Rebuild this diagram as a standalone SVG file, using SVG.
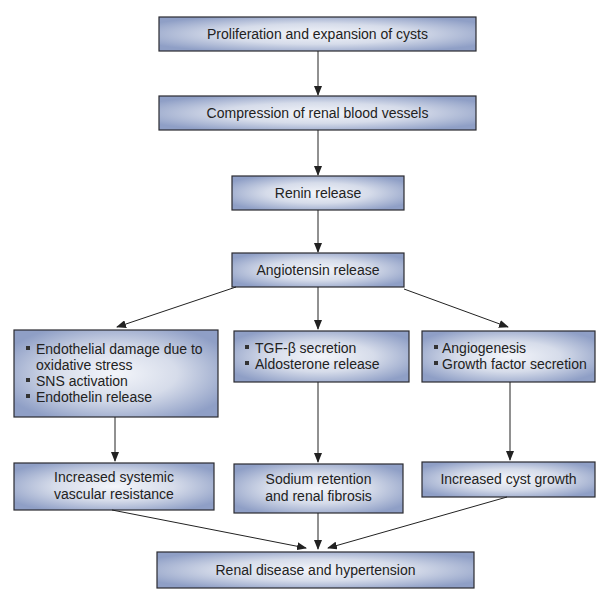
<svg xmlns="http://www.w3.org/2000/svg" width="612" height="595" viewBox="0 0 612 595">
<defs>
<radialGradient id="g" cx="0.5" cy="0.5" r="0.6">
<stop offset="0" stop-color="#f3f5fa"/>
<stop offset="0.5" stop-color="#d6dcea"/>
<stop offset="1" stop-color="#8f9fc6"/>
</radialGradient>
<marker id="ah" markerWidth="10" markerHeight="8" refX="9" refY="4" orient="auto" markerUnits="userSpaceOnUse">
<path d="M0,0 L10,4 L0,8 Z" fill="#222"/>
</marker>
</defs>
<style>
.box{fill:url(#g);stroke:#2a2a30;stroke-width:1.2}
text{font-family:"Liberation Sans",Arial,sans-serif;font-size:14px;fill:#222}
.c{text-anchor:middle}
.b{fill:#333}
.ln{stroke:#222;stroke-width:1;fill:none;marker-end:url(#ah)}
</style>
<rect width="612" height="595" fill="#fff"/>
<g id="n1"><rect class="box" x="159" y="17" width="317" height="34"/><text class="c" x="317.5" y="39">Proliferation and expansion of cysts</text></g>
<g id="n2"><rect class="box" x="159" y="96" width="317" height="34"/><text class="c" x="317.5" y="118">Compression of renal blood vessels</text></g>
<g id="n3"><rect class="box" x="232" y="176" width="172" height="34"/><text class="c" x="318" y="198">Renin release</text></g>
<g id="n4"><rect class="box" x="232" y="253" width="172" height="34"/><text class="c" x="318" y="275">Angiotensin release</text></g>
<g id="n5"><rect class="box" x="14" y="330" width="204" height="87"/>
<rect class="b" x="26" y="346" width="4" height="4"/><text x="36" y="354">Endothelial damage due to</text>
<text x="36" y="370">oxidative stress</text>
<rect class="b" x="26" y="378" width="4" height="4"/><text x="36" y="386">SNS activation</text>
<rect class="b" x="26" y="394" width="4" height="4"/><text x="36" y="402">Endothelin release</text></g>
<g id="n6"><rect class="box" x="234" y="331" width="175" height="51"/>
<rect class="b" x="245" y="345" width="4" height="4"/><text x="255" y="353">TGF-β secretion</text>
<rect class="b" x="245" y="361" width="4" height="4"/><text x="255" y="369">Aldosterone release</text></g>
<g id="n7"><rect class="box" x="422" y="331" width="173" height="51"/>
<rect class="b" x="434" y="345" width="4" height="4"/><text x="442" y="353">Angiogenesis</text>
<rect class="b" x="434" y="361" width="4" height="4"/><text x="442" y="369">Growth factor secretion</text></g>
<g id="n8"><rect class="box" x="14" y="463" width="200" height="47"/><text class="c" x="114" y="482">Increased systemic</text><text class="c" x="114" y="499">vascular resistance</text></g>
<g id="n9"><rect class="box" x="234" y="464" width="169" height="49"/><text class="c" x="318.5" y="484">Sodium retention</text><text class="c" x="318.5" y="501">and renal fibrosis</text></g>
<g id="n10"><rect class="box" x="422" y="462" width="173" height="35"/><text class="c" x="508.5" y="484">Increased cyst growth</text></g>
<g id="n11"><rect class="box" x="157" y="552" width="317" height="36"/><text class="c" x="315.5" y="575">Renal disease and hypertension</text></g>
<g id="connectors">
<line class="ln" x1="318" y1="51" x2="318" y2="95"/>
<line class="ln" x1="318" y1="130" x2="318" y2="175"/>
<line class="ln" x1="318" y1="210" x2="318" y2="252"/>
<line class="ln" x1="236" y1="287" x2="117" y2="327"/>
<line class="ln" x1="318" y1="287" x2="318" y2="329"/>
<line class="ln" x1="404" y1="289" x2="508" y2="327"/>
<line class="ln" x1="115" y1="417" x2="115" y2="461"/>
<line class="ln" x1="318" y1="382" x2="318" y2="462"/>
<line class="ln" x1="510" y1="382" x2="510" y2="460"/>
<line class="ln" x1="112" y1="510" x2="306" y2="548"/>
<line class="ln" x1="318" y1="513" x2="318" y2="549"/>
<line class="ln" x1="507" y1="497" x2="328" y2="548"/>
</g>
</svg>
